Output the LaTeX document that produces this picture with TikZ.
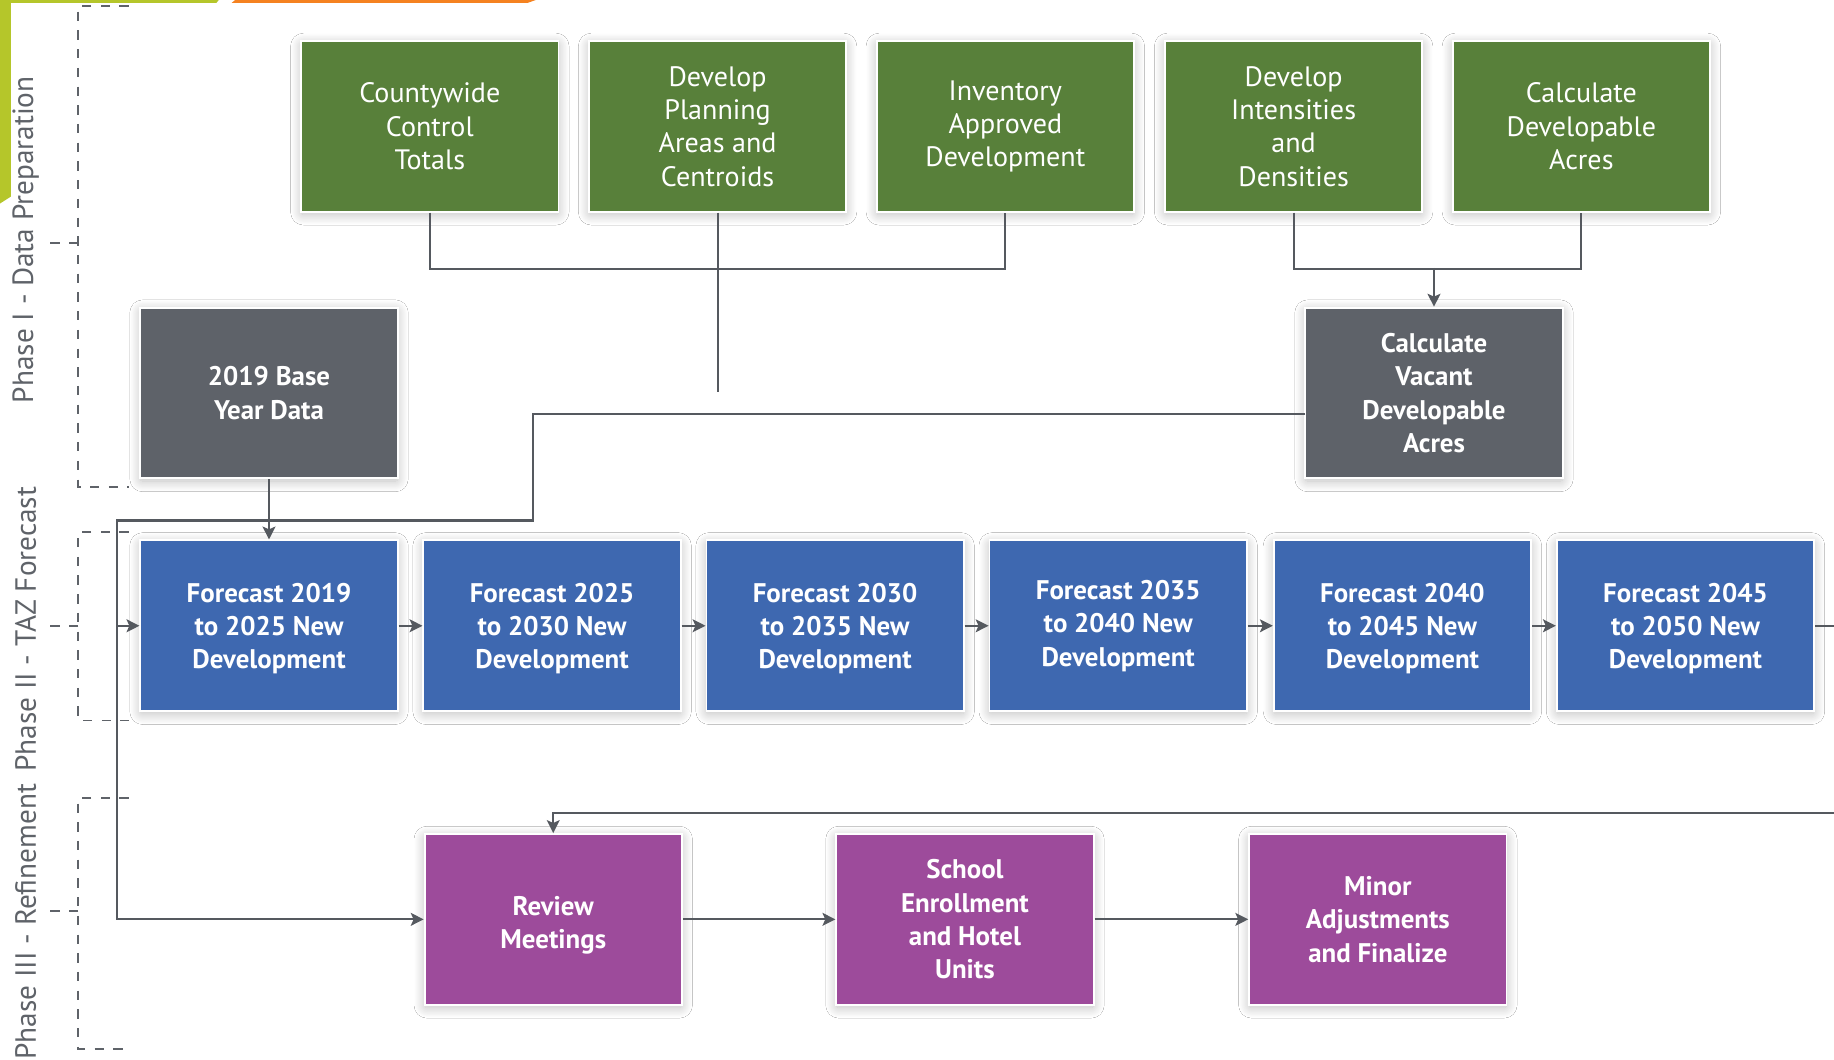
\documentclass[tikz,border=0pt]{standalone}
\usepackage{fontspec}
\setmainfont{PT Sans}
\usetikzlibrary{arrows.meta,shadows.blur,calc}
\definecolor{boxgreen}{RGB}{88,128,58}
\definecolor{boxgray}{RGB}{94,98,105}
\definecolor{boxblue}{RGB}{62,104,176}
\definecolor{boxpurple}{RGB}{157,75,155}
\definecolor{limec}{RGB}{181,198,42}
\definecolor{orng}{RGB}{245,130,32}
\definecolor{linegray}{RGB}{85,89,95}
\definecolor{labelgray}{RGB}{95,99,105}
\newcommand\lowtext[2]{\raisebox{#1}[\height][\depth]{\begin{tabular}{@{}c@{}}#2\end{tabular}}}
\begin{document}
\begin{tikzpicture}[x=0.5pt,y=-0.5pt,
  box/.style={draw=white, line width=0.8pt, minimum width=110pt, minimum height=73pt,
    inner sep=0pt, align=center, text=white,
    blur shadow={shadow blur steps=20, shadow xshift=0pt, shadow yshift=-1.2pt,
      shadow opacity=26, shadow blur radius=4.5pt, shadow blur extra rounding=1pt}},
  gbox/.style={box, fill=boxgreen, font=\fontsize{12}{14.25}\selectfont},
  kbox/.style={box, fill=boxgray, font=\fontsize{11.5}{14.25}\selectfont\bfseries},
  bbox/.style={box, fill=boxblue, font=\fontsize{11.5}{14.25}\selectfont\bfseries},
  pbox/.style={box, fill=boxpurple, font=\fontsize{11.5}{14.25}\selectfont\bfseries},
  conn/.style={draw=linegray, line width=0.9pt},
  arr/.style={-{Stealth[length=5.5pt,width=5.5pt,inset=1.2pt]}},
  brk/.style={draw=labelgray, line width=0.8pt, dash pattern=on 4pt off 4pt},
  phase/.style={text=labelgray, font=\fontsize{12.5}{15}\selectfont, rotate=90, inner sep=0pt}
]
\useasboundingbox (0,0) rectangle (1568,906);
\fill[white] (0,0) rectangle (1568,906);

% header decorations
\fill[limec] (0,0) -- (187,0) -- (185,2.5) -- (9.4,2.5) -- (9.4,168) -- (0,174) -- cycle;
\fill[orng] (201,0) -- (458,0) -- (451,2.5) -- (198,2.5) -- cycle;

% phase brackets
\draw[brk] (110,5) -- (67,5) -- (67,416) -- (110,416);
\draw[brk] (67,208) -- (36,208);
\draw[brk] (110,455) -- (67,455) -- (67,616) -- (110,616);
\draw[brk] (67,535) -- (36,535);
\draw[brk] (110,682) -- (67,682) -- (67,897) -- (110,897);
\draw[brk] (67,779) -- (36,779);

\node[phase] (p1) at (22,205) {Phase I - Data Preparation};
\node[phase] (p2) at (22,538) {Phase II - TAZ Forecast};
\node[phase] (p3) at (22,788) {Phase III - Refinement};

% Phase I boxes
\node[gbox] (cct) at (367.5,108) {Countywide\\Control\\Totals};
\node[gbox] (dpa) at (613.5,108) {Develop\\Planning\\Areas and\\Centroids};
\node[gbox] (iad) at (859.5,108) {Inventory\\Approved\\Development};
\node[gbox] (dii) at (1106,108) {Develop\\Intensities\\and\\Densities};
\node[gbox] (cda) at (1352,108) {Calculate\\Developable\\Acres};
\node[kbox] (base) at (230,336) {2019 Base\\Year Data};
\node[kbox] (cva) at (1226,336) {Calculate\\Vacant\\Developable\\Acres};

% Phase II boxes
\node[bbox] (f1) at (230,535) {\lowtext{-1.3pt}{Forecast 2019\\to 2025 New\\Development}};
\node[bbox] (f2) at (472,535) {\lowtext{-1.3pt}{Forecast 2025\\to 2030 New\\Development}};
\node[bbox] (f3) at (714,535) {\lowtext{-1.3pt}{Forecast 2030\\to 2035 New\\Development}};
\node[bbox] (f4) at (956,535) {Forecast 2035\\to 2040 New\\Development};
\node[bbox] (f5) at (1199,535) {\lowtext{-1.3pt}{Forecast 2040\\to 2045 New\\Development}};
\node[bbox] (f6) at (1441,535) {\lowtext{-1.3pt}{Forecast 2045\\to 2050 New\\Development}};

% Phase III boxes
\node[pbox] (rev) at (473,786) {\lowtext{-2.5pt}{Review\\Meetings}};
\node[pbox] (sch) at (825,786) {School\\Enrollment\\and Hotel\\Units};
\node[pbox] (mnr) at (1178,786) {Minor\\Adjustments\\and Finalize};

% coordinates
\coordinate (dpaend) at (613.5,335);
\coordinate (cvaj) at (1226,229);
\coordinate (cvaout) at (1116,354);
\coordinate (bend1) at (456,445);
\coordinate (bend2) at (100,445);
\coordinate (jf1) at (100,535);
\coordinate (offr) at (1600,695);

% connectors phase I
\draw[conn] (cct.south) -- ++(0,48) -| (iad.south);
\draw[conn] (dpa.south) -- (dpaend);
\draw[conn] (dii.south) -- ++(0,48) -| (cda.south);
\draw[conn,arr] (cvaj) -- (cva.north);

% feed lines
\draw[conn,arr] (cvaout) -| (bend1) -- (bend2) |- (rev.west);
\draw[conn,arr] (jf1) -- (f1.west);
\draw[conn,arr] (base.south) -- (f1.north);

% forecast chain
\draw[conn,arr] (f1.east) -- (f2.west);
\draw[conn,arr] (f2.east) -- (f3.west);
\draw[conn,arr] (f3.east) -- (f4.west);
\draw[conn,arr] (f4.east) -- (f5.west);
\draw[conn,arr] (f5.east) -- (f6.west);
\draw[conn,arr] (f6.east) -| (offr) -| (rev.north);

% refinement chain
\draw[conn,arr] (rev.east) -- (sch.west);
\draw[conn,arr] (sch.east) -- (mnr.west);
\end{tikzpicture}
\end{document}
